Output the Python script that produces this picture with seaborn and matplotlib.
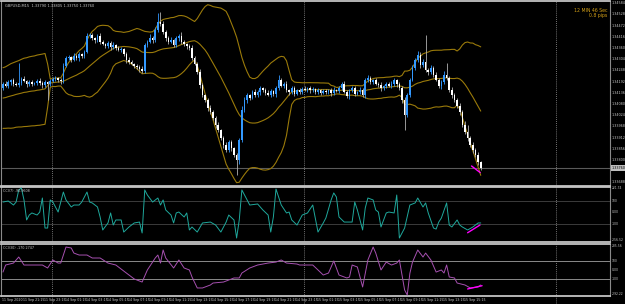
import numpy as np
import pandas as pd
import matplotlib
matplotlib.use("Agg")
import matplotlib.pyplot as plt
import seaborn as sns
from matplotlib.transforms import blended_transform_factory

# ---------------- data ----------------
hist_close = [1.34120, 1.34100, 1.34130, 1.34110, 1.34090, 1.34125, 1.34140, 1.34120, 1.34150, 1.34130,
              1.34140, 1.34160, 1.34135, 1.34150, 1.34125, 1.34140, 1.33850, 1.33940, 1.34160]

close = [
    1.34180, 1.34170, 1.34190, 1.34200, 1.34180, 1.34175, 1.34185, 1.34205, 1.34195, 1.34180,
    1.34190, 1.34180, 1.34185, 1.34195, 1.34185, 1.34175, 1.34190, 1.34180, 1.34195, 1.34205,
    1.34210, 1.34200, 1.34195,
    1.34270, 1.34310, 1.34315, 1.34300, 1.34320, 1.34310, 1.34330, 1.34320, 1.34340,
    1.34420, 1.34425, 1.34410, 1.34400, 1.34420, 1.34390,
    1.34380, 1.34370, 1.34385, 1.34365, 1.34375, 1.34360,
    1.34350, 1.34355, 1.34330, 1.34300, 1.34290,
    1.34280, 1.34270, 1.34265, 1.34255, 1.34245,
    1.34375,
    1.34390, 1.34410, 1.34400, 1.34450,
    1.34490, 1.34480, 1.34440,
    1.34410, 1.34390, 1.34400, 1.34375, 1.34410,
    1.34420, 1.34390, 1.34380, 1.34370,
    1.34360, 1.34310, 1.34280,
    1.34240, 1.34175, 1.34125, 1.34100, 1.34060,
    1.34040, 1.34010, 1.33975, 1.33950, 1.33910,
    1.33875, 1.33850, 1.33890, 1.33860, 1.33825,
    1.33800, 1.33900, 1.34050,
    1.34100, 1.34125, 1.34110, 1.34140, 1.34125,
    1.34140, 1.34160, 1.34150, 1.34135, 1.34125, 1.34145, 1.34130, 1.34160, 1.34200, 1.34170,
    1.34180, 1.34150, 1.34140, 1.34160, 1.34130, 1.34150,
    1.34140, 1.34155, 1.34150, 1.34160, 1.34150, 1.34155,
    1.34140, 1.34150, 1.34135, 1.34145, 1.34140, 1.34150, 1.34135, 1.34150, 1.34145, 1.34160,
    1.34180, 1.34140, 1.34120, 1.34150, 1.34160, 1.34130, 1.34140, 1.34150, 1.34125,
    1.34200, 1.34210, 1.34190, 1.34200, 1.34180, 1.34175, 1.34160, 1.34170, 1.34180,
    1.34170, 1.34180, 1.34200, 1.34180, 1.34160,
    1.34100, 1.34025,
    1.34125, 1.34200, 1.34260,
    1.34300, 1.34325, 1.34275, 1.34290,
    1.34250, 1.34240, 1.34260, 1.34225,
    1.34200, 1.34170, 1.34190, 1.34225,
    1.34210, 1.34150, 1.34125,
    1.34100, 1.34070, 1.34040, 1.33975, 1.33940, 1.33910, 1.33875, 1.33850, 1.33825, 1.33790, 1.33760,
]

# wick lengths in points (0.00001)
wick_up = [
    10, 15, 10, 5, 10, 10, 100, 10, 15, 5, 10, 10, 5, 10, 15, 10, 10, 5, 10, 10,
    10, 5, 10, 15, 10, 10, 5, 15, 10, 10, 5, 10, 15, 10, 10, 5, 10, 15, 10, 5,
    10, 10, 15, 5, 10, 10, 5, 10, 15, 10, 5, 10, 10, 15, 10, 10, 20, 10, 15, 45,
    50, 15, 10, 10, 15, 5, 10, 10, 20, 10, 5, 10, 15, 10, 10, 15, 10, 5, 10, 15,
    10, 10, 15, 5, 10, 15, 10, 10, 5, 10, 10, 20, 15, 10, 5, 10, 15, 10, 10, 5,
    10, 15, 10, 5, 10, 25, 10, 10, 15, 5, 10, 10, 5, 10, 10, 15, 5, 10, 10, 5,
    10, 5, 10, 10, 5, 10, 15, 5, 10, 10, 15, 10, 5, 10, 10, 5, 15, 10, 10, 15,
    10, 5, 10, 10, 15, 5, 10, 10, 15, 10, 5, 10, 10, 15, 10, 10, 15, 10, 20, 15,
    15, 135, 10, 15, 10, 15, 10, 10, 20, 60, 10, 15, 10, 10, 15, 10, 20, 35, 10, 15,
    10, 15, 5,
]
wick_dn = [
    10, 5, 10, 15, 10, 5, 10, 10, 5, 15, 10, 10, 5, 10, 10, 15, 10, 80, 10, 5,
    10, 10, 15, 10, 5, 10, 10, 5, 10, 15, 10, 10, 5, 10, 10, 15, 10, 10, 5, 10,
    10, 15, 10, 10, 5, 10, 10, 15, 10, 5, 10, 10, 15, 10, 10, 10, 5, 15, 10, 10,
    10, 10, 15, 10, 5, 10, 10, 15, 10, 10, 15, 10, 10, 5, 10, 15, 10, 10, 15, 10,
    10, 15, 10, 10, 15, 10, 10, 15, 10, 75, 20, 10, 10, 15, 10, 5, 10, 10, 15, 10,
    10, 5, 10, 10, 15, 10, 5, 10, 10, 15, 10, 10, 5, 10, 10, 5, 10, 15, 10, 10,
    10, 10, 5, 10, 10, 15, 10, 5, 10, 10, 5, 10, 15, 10, 10, 5, 10, 10, 15, 10,
    10, 10, 5, 10, 15, 10, 10, 5, 10, 10, 15, 10, 15, 75, 10, 10, 5, 10, 10, 15,
    10, 10, 15, 10, 10, 5, 10, 15, 10, 10, 10, 15, 10, 10, 15, 10, 10, 15, 10, 15,
    10, 15, 10,
]

fast_bar = [0, 2, 4, 5, 6, 7, 8, 9, 10, 11,
            13, 14, 15, 16, 17, 18, 19, 21, 22, 23,
            24, 26, 27, 29, 30, 32, 33, 34, 36, 37,
            38, 40, 41, 42, 43, 45, 46, 48, 50, 52,
            53, 54, 55, 57, 59, 60, 61, 62, 64, 65,
            66, 67, 69, 70, 71, 72, 74, 76, 79, 81,
            83, 85, 86, 88, 89, 90, 91, 93, 94, 97,
            99, 101, 102, 103, 104, 106, 108, 109, 110, 112,
            113, 114, 116, 118, 120, 122, 123, 125, 126, 127,
            128, 130, 131, 133, 134, 135, 137, 138, 139, 141,
            142, 143, 144, 146, 147, 149, 150, 151, 153, 155,
            157, 158, 160, 161, 162, 164, 165, 166, 167, 169,
            170, 171, 173, 174, 175, 177, 179, 181, 182]
fast_val = [91, 100, 65, 91, 196, 213, 109, -65, -22, -4,
            -22, 4, 126, -135, -135, 109, 91, 4, 91, 178,
            109, 48, 65, 65, 91, 178, 91, 83, 48, -39,
            -152, -91, -4, -109, -65, -65, -170, -126, -91, -83,
            -178, 196, 152, 91, 126, 65, 109, 22, -22, -91,
            -4, 4, -39, -4, -152, -126, -170, -91, -83, -109,
            -170, -83, -22, -65, -222, -65, 196, 109, 65, 74,
            22, -22, -170, -39, 204, 65, -4, 4, -65, -109,
            -65, -22, -4, 65, -170, -91, -48, 109, 170, 135,
            -39, -83, -83, -83, 91, 22, -152, 39, 126, 109,
            22, 4, -126, -4, 4, -4, 152, -222, -135, 65,
            83, 126, 48, 83, -4, -135, -144, -83, -48, 83,
            -109, -126, -65, -109, -126, -152, -126, -91, -91]

slow_bar = [0, 1, 4, 6, 8, 15, 17, 19, 21, 22,
            24, 26, 27, 29, 32, 34, 37, 40, 43, 47,
            50, 53, 55, 58, 59, 60, 61, 62, 65, 67,
            69, 71, 72, 74, 76, 79, 80, 84, 88, 90,
            91, 94, 97, 101, 104, 106, 108, 112, 113, 118,
            120, 122, 124, 126, 128, 131, 132, 133, 135, 137,
            139, 141, 142, 144, 146, 148, 150, 151, 153, 154,
            155, 156, 158, 160, 161, 163, 165, 167, 168, 169,
            170, 172, 173, 176, 178, 181, 182]
slow_val = [-26, 52, 74, 141, 52, 52, 19, 108, 74, 74,
            252, 241, 185, 163, 163, 130, 130, 74, 52, -37,
            -103, -137, -3, 130, 163, 74, 219, 130, 19, 108,
            19, -3, -81, -203, -203, -170, -148, -137, -92, -92,
            -37, 19, 52, 74, 85, 108, 74, 63, 52, 52,
            -3, -59, -37, 97, -59, -92, -81, 52, 30, -192,
            108, 252, 185, -3, 85, 52, 74, 108, -225, -281,
            -40, 85, 219, 141, 185, 108, -26, -3, -37, 52,
            -81, -92, -148, -170, -203, -192, -170]

# divergence trend lines (bar, value)
div_main_bar = [178.5, 181.8]
div_main_val = [1.33770, 1.33737]
div_fast_bar = [177.0, 181.7]
div_fast_val = [-176, -109]
div_slow_bar = [177.0, 182.5]
div_slow_val = [-214, -178]

sep_bars = [18.5, 114.5, 210.5]

price_labels = [1.34584, 1.34528, 1.34472, 1.34416, 1.34360, 1.34304, 1.34248, 1.34192, 1.34136,
                1.34080, 1.34024, 1.33968, 1.33912, 1.33856, 1.33800, 1.33744, 1.33688]

xlab_bars = list(range(0, 177, 8))
xlab_text = ["11 Sep 2020", "11 Sep 21:15", "11 Sep 23:15", "14 Sep 01:15", "14 Sep 03:15",
             "14 Sep 05:15", "14 Sep 07:15", "14 Sep 09:15", "14 Sep 11:15", "14 Sep 13:15",
             "14 Sep 15:15", "14 Sep 17:15", "14 Sep 19:15", "14 Sep 21:15", "14 Sep 23:15",
             "15 Sep 01:15", "15 Sep 03:15", "15 Sep 05:15", "15 Sep 07:15", "15 Sep 09:15",
             "15 Sep 11:15", "15 Sep 13:15", "15 Sep 15:15"]

fast_levels = [(214.0, "221.74"), (100, "100"), (0, "0.00"), (-100, "-100"), (-238, "-256.52")]
slow_levels = [(264, "285.56"), (100, "100"), (0, "0.00"), (-100, "-100"), (-272, "-292.22")]

title_text = "GBPUSD,M15  1.33790 1.33805 1.33750 1.33760"
fast_label = "CCI(7) -90.9608"
slow_label = "CCI(30) -170.2747"
timer_text = ["12 MIN 46 Sec", "0.8 pips"]

# ---------------- style ----------------
sns.set_style("dark", {"axes.facecolor": "black", "figure.facecolor": "black"})
plt.rcParams["font.family"] = ["DejaVu Sans"]

BLUE = "#3399ff"
GOLD_BAND = "#9a7a0a"
CYAN = "#1fa89c"
MAG = "#a650b0"
PINK = "#ff00ff"
TXT = "#c8c8c8"

W, H = 625, 304
fig = plt.figure(figsize=(W / 100, H / 100), dpi=100)
fig.patch.set_facecolor("black")


def px_axes(left, top, right, bottom):
    return fig.add_axes([left / W, 1 - bottom / H, (right - left) / W, (bottom - top) / H])


AX_R = 610
ax1 = px_axes(1, 1, AX_R, 186)
ax2 = px_axes(1, 187, AX_R, 242)
ax3 = px_axes(1, 244, AX_R, 296)

XL, XR = -0.76, (AX_R - 3) / 2.625
for ax in (ax1, ax2, ax3):
    ax.set_facecolor("black")
    ax.set_xlim(XL, XR)
    ax.grid(False)
    for s in ("top", "bottom"):
        ax.spines[s].set_visible(True)
        ax.spines[s].set_color("#c4c4c4")
        ax.spines[s].set_linewidth(1.3)
    for s in ("left", "right"):
        ax.spines[s].set_visible(True)
        ax.spines[s].set_color("#8a8a8a")
        ax.spines[s].set_linewidth(0.8)

ax1.set_ylim(1.33670, 1.34595)
ax2.set_ylim(-256.5, 221.7)
ax3.set_ylim(-292.2, 285.6)

# ---------------- candles ----------------
n = len(close)
x = np.arange(n)
c = np.array(close)
o = np.r_[hist_close[-1], c[:-1]]
hi = np.maximum(o, c) + np.array(wick_up) * 1e-5
lo = np.minimum(o, c) - np.array(wick_dn) * 1e-5
bull = c >= o
body_lo = np.minimum(o, c)
body_h = np.maximum(np.abs(c - o), 0.00003)

ax1.vlines(x[bull], lo[bull], hi[bull], color=BLUE, lw=0.6, zorder=3)
ax1.vlines(x[~bull], lo[~bull], hi[~bull], color="#b0b0b0", lw=0.6, zorder=3)
ax1.bar(x[bull], body_h[bull], bottom=body_lo[bull], width=0.66, color=BLUE, lw=0, zorder=4)
ax1.bar(x[~bull], body_h[~bull], bottom=body_lo[~bull], width=0.66, color="white", lw=0, zorder=4)

# Bollinger bands (20, 2) from the closes
full = pd.Series(np.r_[hist_close, c])
mid = full.rolling(20).mean().to_numpy()[-n:]
sd = full.rolling(20).std(ddof=0).to_numpy()[-n:]
bands = pd.DataFrame({"bar": x, "upper": mid + 2 * sd, "mid": mid, "lower": mid - 2 * sd})
for col in ("upper", "mid", "lower"):
    sns.lineplot(data=bands, x="bar", y=col, ax=ax1, color=GOLD_BAND, lw=0.8, legend=False, zorder=2)

# current price line
ax1.axhline(c[-1], color="#5a5a5a", lw=0.8, zorder=1)

# ---------------- indicators ----------------
sns.lineplot(x=fast_bar, y=fast_val, ax=ax2, color=CYAN, lw=0.7, legend=False, zorder=3)
sns.lineplot(x=slow_bar, y=slow_val, ax=ax3, color=MAG, lw=0.7, legend=False, zorder=3)
for lvl in (100, -100):
    ax2.axhline(lvl, color="#8a8a8a", lw=0.6, ls=(0, (1.2, 1.2)), zorder=1)
    ax3.axhline(lvl, color="#8a8a8a", lw=0.7, zorder=1)

sns.lineplot(x=div_main_bar, y=div_main_val, ax=ax1, color=PINK, lw=1.0, legend=False, zorder=5)
sns.lineplot(x=div_fast_bar, y=div_fast_val, ax=ax2, color=PINK, lw=1.0, legend=False, zorder=5)
sns.lineplot(x=div_slow_bar, y=div_slow_val, ax=ax3, color=PINK, lw=1.0, legend=False, zorder=5)

# period separators
for b in sep_bars:
    for ax in (ax1, ax2):
        ax.axvline(b, color="#9a9a9a", lw=0.6, ls=(0, (1, 1.5)), zorder=1)
    ax3.axvline(b, ymin=-0.17, ymax=1, color="#9a9a9a", lw=0.6, ls=(0, (1, 1.5)), zorder=1, clip_on=False)

for ax in (ax1, ax2, ax3):
    ax.set_xlabel("")
    ax.set_ylabel("")
    ax.set_xticks([])
    ax.set_yticks([])

# ---------------- texts ----------------
FS = 2.4
tr1 = blended_transform_factory(ax1.transAxes, ax1.transData)
for p in price_labels:
    if abs(p - c[-1]) < 0.00018:
        continue
    ax1.text(1.003, p, f"{p:.5f}", transform=tr1, fontsize=FS, color=TXT, va="center", ha="left")
ax1.text(1.003, c[-1], f"{c[-1]:.5f}", transform=tr1, fontsize=FS, color="black", va="center", ha="left",
         bbox=dict(boxstyle="square,pad=0.25", fc="#c0c0c0", ec="none"))

tr2 = blended_transform_factory(ax2.transAxes, ax2.transData)
for v, s in fast_levels:
    ax2.text(1.003, v, s, transform=tr2, fontsize=2.2, color=TXT, va="center", ha="left")
tr3 = blended_transform_factory(ax3.transAxes, ax3.transData)
for v, s in slow_levels:
    ax3.text(1.003, v, s, transform=tr3, fontsize=2.2, color=TXT, va="center", ha="left")

ax1.text(0.006, 0.985, title_text, transform=ax1.transAxes, fontsize=2.6, color=TXT, va="top", ha="left")
ax2.text(0.004, 0.96, fast_label, transform=ax2.transAxes, fontsize=2.4, color=TXT, va="top", ha="left")
ax3.text(0.004, 0.96, slow_label, transform=ax3.transAxes, fontsize=2.4, color=TXT, va="top", ha="left")

fig.text(607 / W, 1 - 10.5 / H, timer_text[0], fontsize=3.3, color="#d4a017", ha="right", va="center")
fig.text(607 / W, 1 - 16.0 / H, timer_text[1], fontsize=3.3, color="#d4a017", ha="right", va="center")

trx = blended_transform_factory(ax3.transData, ax3.transAxes)
for b, s in zip(xlab_bars, xlab_text):
    ax3.text(b - 0.3, -0.08, s, transform=trx, fontsize=2.3, color=TXT, va="center", ha="left", clip_on=False)

fig.savefig("out.png", dpi=100, facecolor="black")
